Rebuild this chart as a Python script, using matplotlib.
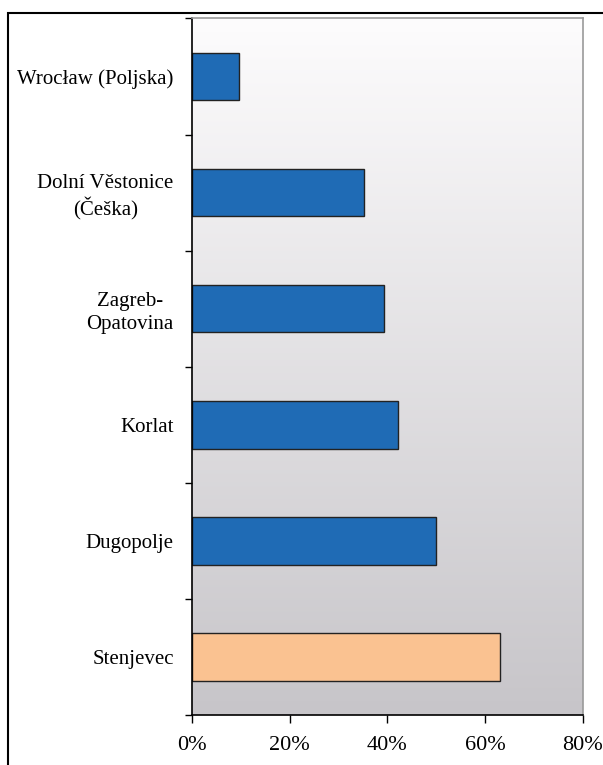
import numpy as np
import matplotlib
matplotlib.use("Agg")
import matplotlib.pyplot as plt
from matplotlib.colors import LinearSegmentedColormap
from matplotlib.patches import Rectangle

plt.rcParams['font.family'] = ['Liberation Serif', 'DejaVu Serif']

sites = ["Wrocław (Poljska)", "Dolní Věstonice\n(Češka)", "Zagreb-\nOpatovina",
         "Korlat", "Dugopolje", "Stenjevec"]
values = [9.7, 35.3, 39.3, 42.3, 49.9, 63.0]
colors = ["#1F6BB5"] * 5 + ["#FAC291"]
xticks = [0, 20, 40, 60, 80]

fig = plt.figure(figsize=(6.03, 7.65), dpi=100)
ax = fig.add_axes([0.318, 0.0654, 0.6484, 0.9105])

# background gradient (white top -> gray bottom)
cmap = LinearSegmentedColormap.from_list("bg", ["#FDFCFD", "#C7C5C9"])
grad = np.linspace(0, 1, 256).reshape(-1, 1)
ax.imshow(grad, cmap=cmap, aspect="auto", extent=[0, 80, -0.5, 5.5],
          origin="upper", zorder=0)

ypos = np.arange(len(sites))[::-1]
ax.barh(ypos, values, height=0.41, color=colors, edgecolor="#222222",
        linewidth=1.0, zorder=2)

ax.set_xlim(0, 80)
ax.set_ylim(-0.5, 5.5)
ax.set_xticks(xticks)
ax.set_xticklabels([f"{t}%" for t in xticks], fontsize=16)
ax.set_yticks(ypos)
ax.set_yticklabels(sites, fontsize=15, multialignment="center",
                   linespacing=1.25)
ax.tick_params(axis="y", length=0, pad=13)
ax.set_yticks(np.arange(-0.5, 6, 1), minor=True)
ax.tick_params(axis="y", which="minor", length=5, width=1, direction="out")
ax.tick_params(axis="x", length=6, width=1, direction="out", pad=9)

for s in ["top", "right"]:
    ax.spines[s].set_color("#9A9A9A")
    ax.spines[s].set_linewidth(1.2)
for s in ["left", "bottom"]:
    ax.spines[s].set_color("black")
    ax.spines[s].set_linewidth(1.2)

# outer frame (left and top edges visible)
fig.patches.append(Rectangle((8 / 603, -0.1), 1.2, 1 - 13 / 765 + 0.1,
                             transform=fig.transFigure, fill=False,
                             edgecolor="black", linewidth=1.5))

fig.savefig("out.png", dpi=100)
